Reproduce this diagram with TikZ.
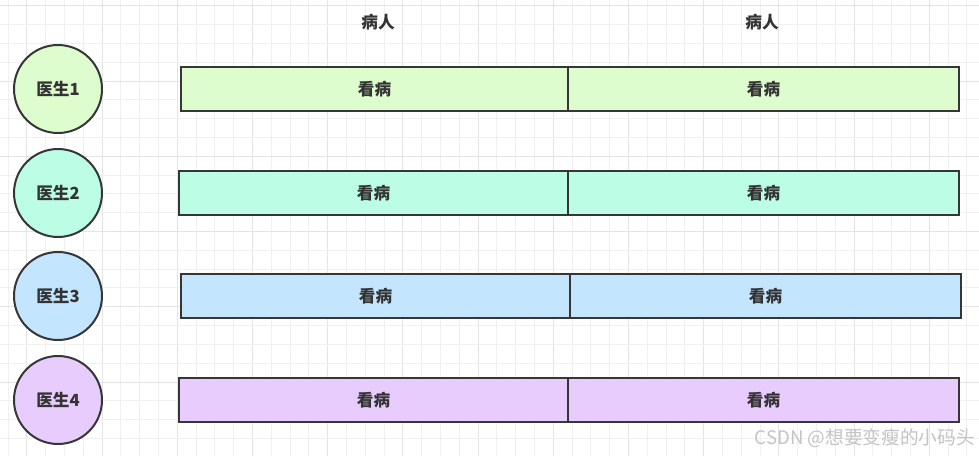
\documentclass[tikz,border=0pt]{standalone}
\usepackage{fontspec}
\setmainfont{Noto Sans CJK SC}
\newfontfamily\cjk{Noto Sans CJK SC}
\definecolor{gridminor}{HTML}{F0F0F0}
\definecolor{gridmajor}{HTML}{E4E4E4}
\definecolor{edgegray}{HTML}{363636}
\definecolor{rowA}{HTML}{DDFDCE}
\definecolor{rowB}{HTML}{BBFDE5}
\definecolor{rowC}{HTML}{C4E5FE}
\definecolor{rowD}{HTML}{E7CCFD}
\definecolor{markgray}{HTML}{C4C4C4}

\begin{document}
\begin{tikzpicture}[x=0.75pt,y=-0.75pt,
  doctor/.style={circle,draw=edgegray,line width=1.5pt,minimum size=66pt,inner sep=0pt,
    font=\cjk\bfseries\fontsize{12.5}{14}\selectfont,text=black!80},
  slot/.style={rectangle,draw=edgegray,line width=1.5pt,minimum height=33pt,inner sep=0pt,
    font=\cjk\bfseries\fontsize{12.5}{14}\selectfont,text=black!80},
  header/.style={font=\cjk\bfseries\fontsize{12.5}{14}\selectfont,text=black!80}]
\useasboundingbox (0,0) rectangle (979,456);
\fill[white] (0,0) rectangle (979,456);
% ---------- background grid ----------
\foreach \i in {0,...,52} {
  \pgfmathtruncatemacro{\maj}{mod(\i-1,4)==0}
  \ifnum\maj=1 \def\gc{gridmajor}\else\def\gc{gridminor}\fi
  \draw[\gc,line width=0.75pt] (8+\i*18.8,0) -- (8+\i*18.8,456);
}
\foreach \j in {0,...,24} {
  \pgfmathtruncatemacro{\maj}{mod(\j,4)==0}
  \ifnum\maj=1 \def\gc{gridmajor}\else\def\gc{gridminor}\fi
  \draw[\gc,line width=0.75pt] (0,6+\j*18.8) -- (979,6+\j*18.8);
}
% ---------- column headers ----------
\node[header] (patient1) at (378,22) {病人};
\node[header] (patient2) at (762,22) {病人};
% ---------- doctors and their two visits ----------
\foreach \n/\yc/\xl/\xm/\xr/\col in {1/89/180/567/958/rowA,2/193/178/567/958/rowB,
                                      3/296/180/569/960/rowC,4/400/178/567/958/rowD} {
  \node[doctor,fill=\col] (doc\n) at (58,\yc) {医生\n};
  \pgfmathsetmacro{\wa}{(\xm-\xl)*0.75}
  \pgfmathsetmacro{\wb}{(\xr-\xm)*0.75}
  \node[slot,fill=\col,minimum width=\wa pt,anchor=west] (visit\n a) at (\xl,\yc) {看病};
  \node[slot,fill=\col,minimum width=\wb pt,anchor=west] (visit\n b) at (\xm,\yc) {看病};
}
% ---------- watermark ----------
\node[anchor=east,text=markgray,font=\cjk\fontsize{14}{16}\selectfont,inner sep=0pt] (mark) at (975,438) {CSDN @想要变瘦的小码头};
\end{tikzpicture}
\end{document}
